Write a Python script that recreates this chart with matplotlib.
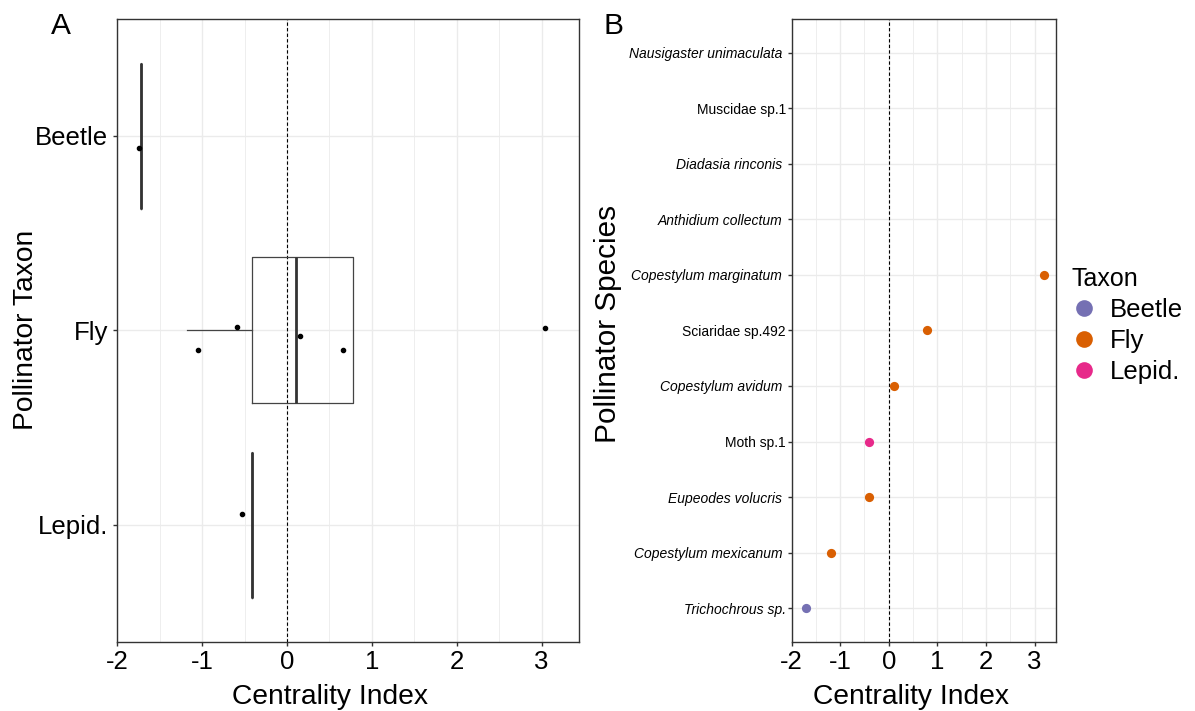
import matplotlib
matplotlib.use("Agg")
import matplotlib.pyplot as plt
from matplotlib.lines import Line2D
import numpy as np

plt.rcParams['font.family'] = ['Liberation Sans', 'DejaVu Sans']
plt.rcParams['axes.unicode_minus'] = False

# ---------------- data ----------------
# Panel A: box summaries per taxon (top to bottom)
taxa = ["Beetle", "Fly", "Lepid."]
taxa_pos = [3, 2, 1]
box_q1 = [-1.72, -0.41, -0.41]
box_med = [-1.72, 0.106, -0.41]
box_q3 = [-1.72, 0.78, -0.41]
box_lo = [-1.72, -1.18, -0.41]
box_hi = [-1.72, 0.78, -0.41]

# Panel A: jittered raw points
pt_taxon = ["Beetle", "Fly", "Fly", "Fly", "Fly", "Fly", "Lepid."]
pt_x = [-1.75, -0.59, -1.055, 0.157, 0.655, 3.04, -0.525]
pt_jitter = [-0.06, 0.02, -0.10, -0.03, -0.10, 0.014, 0.055]

# Panel B: species (bottom to top)
species = ["Trichochrous sp.", "Copestylum mexicanum", "Eupeodes volucris", "Moth sp.1",
           "Copestylum avidum", "Sciaridae sp.492", "Copestylum marginatum",
           "Anthidium collectum", "Diadasia rinconis", "Muscidae sp.1",
           "Nausigaster unimaculata"]
species_italic = [True, True, True, False, True, False, True, True, True, False, True]
species_taxon = ["Beetle", "Fly", "Fly", "Lepid.", "Fly", "Fly", "Fly",
                 None, None, None, None]
species_value = [-1.71, -1.18, -0.41, -0.41, 0.10, 0.78, 3.20,
                 np.nan, np.nan, np.nan, np.nan]

x_ticks = [-2, -1, 0, 1, 2, 3]
x_ticklabels = ["-2", "-1", "0", "1", "2", "3"]
legend_labels = ["Beetle", "Fly", "Lepid."]
taxon_colors = {"Beetle": "#7570B3", "Fly": "#D95F02", "Lepid.": "#E7298A"}

# ---------------- figure ----------------
W, H = 1195, 711
fig = plt.figure(figsize=(W / 100, H / 100), dpi=100)

def fx(px):
    return px / W

def fy(py):
    return 1 - py / H

top, bot = 19.3, 641.5
axA = fig.add_axes([fx(117.3), fy(bot), fx(579 - 117.3), (bot - top) / H])
axB = fig.add_axes([fx(791.5), fy(bot), fx(1056 - 791.5), (bot - top) / H])

frame_col = "#333333"
grid_col = "#EBEBEB"

for ax in (axA, axB):
    ax.set_facecolor("white")
    for s in ax.spines.values():
        s.set_color(frame_col)
        s.set_linewidth(1.0)
    ax.set_xlim(-2.0, 3.44)
    ax.set_xticks(x_ticks)
    ax.set_xticklabels(x_ticklabels)
    ax.set_xticks(np.arange(-1.5, 3.5, 1.0), minor=True)
    ax.grid(True, which="major", color=grid_col, lw=1.0, zorder=0)
    ax.grid(True, which="minor", axis="x", color=grid_col, lw=0.6, zorder=0)
    ax.set_axisbelow(True)
    ax.tick_params(which="minor", length=0)
    ax.tick_params(axis="x", which="major", labelsize=18.5, length=3, width=1,
                   color=frame_col, pad=3.3)
    ax.axvline(0, color="black", lw=0.8, linestyle=(0, (3, 2)), zorder=1)

# ---- Panel A ----
stats = []
for i, t in enumerate(taxa):
    stats.append(dict(label=t, q1=box_q1[i], med=box_med[i], q3=box_q3[i],
                      whislo=box_lo[i], whishi=box_hi[i], fliers=[]))
axA.bxp(stats, positions=taxa_pos, widths=0.75, orientation="horizontal",
        showfliers=False, showcaps=False, manage_ticks=False,
        boxprops=dict(color="#444444", lw=0.9),
        whiskerprops=dict(color="#444444", lw=0.9),
        medianprops=dict(color="#333333", lw=2.0), zorder=2)
pos_map = dict(zip(taxa, taxa_pos))
py = [pos_map[t] + j for t, j in zip(pt_taxon, pt_jitter)]
axA.plot(pt_x, py, "o", color="black", markersize=3, linestyle="none", zorder=3)
axA.set_ylim(0.4, 3.6)
axA.set_yticks(taxa_pos)
axA.set_yticklabels(taxa)
axA.tick_params(axis="y", labelsize=18.5, length=3, width=1, color=frame_col, pad=3.6)

# ---- Panel B ----
ypos = np.arange(1, len(species) + 1)
for y, v, t in zip(ypos, species_value, species_taxon):
    if t is not None and not np.isnan(v):
        axB.scatter([v], [y], s=44, color=taxon_colors[t], zorder=3, linewidths=0)
axB.set_ylim(0.4, len(species) + 0.6)
axB.set_yticks(ypos)
lbls = []
for name, it in zip(species, species_italic):
    lbls.append(name + " " if (it and not name.endswith("sp.")) else name)
axB.set_yticklabels(lbls)
axB.tick_params(axis="y", labelsize=10, length=3, width=1, color=frame_col, pad=1)
for lab, it in zip(axB.get_yticklabels(), species_italic):
    lab.set_fontstyle("italic" if it else "normal")

# ---- Axis titles and panel letters ----
fig.text(fx(330), fy(704), "Centrality Index", fontsize=20.3, ha="center", va="baseline")
fig.text(fx(911), fy(704), "Centrality Index", fontsize=20.3, ha="center", va="baseline")
fig.text(fx(33), fy(330), "Pollinator Taxon", fontsize=20.3, ha="center", va="baseline",
         rotation=90, rotation_mode="anchor")
fig.text(fx(616), fy(324), "Pollinator Species", fontsize=21.4, ha="center", va="baseline",
         rotation=90, rotation_mode="anchor")
fig.text(fx(51), fy(34), "A", fontsize=21.5, ha="left", va="baseline")
fig.text(fx(603), fy(34), "B", fontsize=21.5, ha="left", va="baseline")

# ---- Legend ----
handles = [Line2D([], [], marker="o", linestyle="none", markersize=12,
                  markerfacecolor=taxon_colors[t], markeredgewidth=0)
           for t in legend_labels]
fig.legend(handles, legend_labels, title="Taxon", loc="upper left",
           bbox_to_anchor=(fx(1071), fy(267)), frameon=False, fontsize=18.5,
           title_fontsize=18, alignment="left", borderpad=0, borderaxespad=0,
           handlelength=1.0, handletextpad=0.5, labelspacing=0.27)

fig.savefig("out.png", dpi=100)
